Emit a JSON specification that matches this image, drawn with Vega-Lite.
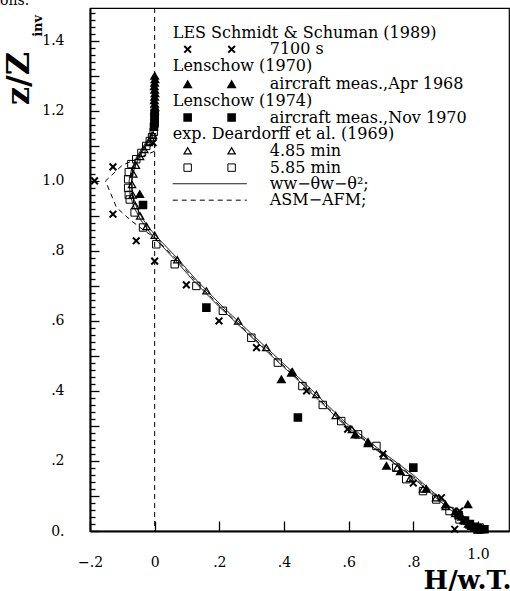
{
  "$schema": "https://vega.github.io/schema/vega-lite/v6.json",
  "width": 419,
  "height": 523,
  "autosize": {"type": "none"},
  "padding": {"left": 90, "top": 8, "right": 1, "bottom": 60},
  "background": "white",
  "title": {"text": "ons.", "anchor": "start", "frame": "group", "dx": -90, "offset": 0, "fontSize": 14, "font": "DejaVu Serif", "fontWeight": "normal", "color": "black"},
  "config": {
    "view": {"stroke": "black", "strokeWidth": 1.2},
    "axis": {"domainColor": "black", "domainWidth": 2, "tickColor": "black", "tickWidth": 1.3, "labelColor": "black", "labelFont": "DejaVu Serif", "labelFontSize": 14, "labelOverlap": false, "grid": false, "titleColor": "black", "titleFont": "DejaVu Serif", "titleFontWeight": "bold"}
  },
  "resolve": {"axis": {"y": "independent"}},
  "datasets": {
    "pts": [
      {"s": "LES", "x": -0.186, "z": 1.0}, {"s": "LES", "x": -0.129, "z": 1.04}, {"s": "LES", "x": -0.129, "z": 0.905}, {"s": "LES", "x": -0.057, "z": 0.829}, {"s": "LES", "x": 0.0, "z": 0.771}, {"s": "LES", "x": 0.098, "z": 0.703}, {"s": "LES", "x": 0.199, "z": 0.6}, {"s": "LES", "x": 0.315, "z": 0.524}, {"s": "LES", "x": -0.005, "z": 1.109}, {"s": "LES", "x": 0.47, "z": 0.4}, {"s": "LES", "x": 0.597, "z": 0.291}, {"s": "LES", "x": 0.706, "z": 0.22}, {"s": "LES", "x": 0.8, "z": 0.137}, {"s": "LES", "x": 0.887, "z": 0.095}, {"s": "LES", "x": 0.943, "z": 0.057}, {"s": "LES", "x": 0.928, "z": 0.005},
      {"s": "Apr68", "x": 0.0, "z": 1.3}, {"s": "Apr68", "x": 0.001, "z": 1.29}, {"s": "Apr68", "x": 0.0, "z": 1.28}, {"s": "Apr68", "x": -0.001, "z": 1.27}, {"s": "Apr68", "x": 0.0, "z": 1.26}, {"s": "Apr68", "x": 0.001, "z": 1.25}, {"s": "Apr68", "x": 0.0, "z": 1.24}, {"s": "Apr68", "x": -0.001, "z": 1.23}, {"s": "Apr68", "x": 0.0, "z": 1.22}, {"s": "Apr68", "x": 0.001, "z": 1.21}, {"s": "Apr68", "x": 0.0, "z": 1.2},
      {"s": "Apr68", "x": -0.046, "z": 0.962}, {"s": "Apr68", "x": 0.392, "z": 0.433}, {"s": "Apr68", "x": 0.423, "z": 0.452}, {"s": "Apr68", "x": 0.717, "z": 0.186}, {"s": "Apr68", "x": 0.969, "z": 0.076}, {"s": "Apr68", "x": 0.62, "z": 0.275}, {"s": "Apr68", "x": 0.66, "z": 0.25}, {"s": "Apr68", "x": 0.76, "z": 0.17}, {"s": "Apr68", "x": 0.84, "z": 0.12}, {"s": "Apr68", "x": 0.9, "z": 0.075}, {"s": "Apr68", "x": 0.93, "z": 0.055}, {"s": "Apr68", "x": 0.95, "z": 0.04}, {"s": "Apr68", "x": 0.96, "z": 0.03}, {"s": "Apr68", "x": 0.97, "z": 0.02}, {"s": "Apr68", "x": 0.98, "z": 0.014}, {"s": "Apr68", "x": 0.99, "z": 0.008}, {"s": "Apr68", "x": 1.0, "z": 0.004},
      {"s": "Nov70", "x": 0.0, "z": 1.195}, {"s": "Nov70", "x": 0.0, "z": 1.185}, {"s": "Nov70", "x": 0.0, "z": 1.175}, {"s": "Nov70", "x": 0.0, "z": 1.165}, {"s": "Nov70", "x": -0.002, "z": 1.155},
      {"s": "Nov70", "x": -0.036, "z": 0.931}, {"s": "Nov70", "x": 0.16, "z": 0.638}, {"s": "Nov70", "x": 0.443, "z": 0.324}, {"s": "Nov70", "x": 0.8, "z": 0.181}, {"s": "Nov70", "x": 0.94, "z": 0.045}, {"s": "Nov70", "x": 0.96, "z": 0.03}, {"s": "Nov70", "x": 0.975, "z": 0.02}, {"s": "Nov70", "x": 0.99, "z": 0.012}, {"s": "Nov70", "x": 1.0, "z": 0.008}, {"s": "Nov70", "x": 1.01, "z": 0.005}, {"s": "Nov70", "x": 1.02, "z": 0.005},
      {"s": "D485", "x": -0.005, "z": 1.13}, {"s": "D485", "x": -0.018, "z": 1.11}, {"s": "D485", "x": -0.032, "z": 1.09}, {"s": "D485", "x": -0.045, "z": 1.07}, {"s": "D485", "x": -0.058, "z": 1.045}, {"s": "D485", "x": -0.066, "z": 1.02}, {"s": "D485", "x": -0.07, "z": 0.99}, {"s": "D485", "x": -0.068, "z": 0.96}, {"s": "D485", "x": -0.06, "z": 0.93}, {"s": "D485", "x": -0.045, "z": 0.9}, {"s": "D485", "x": -0.025, "z": 0.87}, {"s": "D485", "x": 0.0, "z": 0.845}, {"s": "D485", "x": 0.07, "z": 0.775}, {"s": "D485", "x": 0.16, "z": 0.686}, {"s": "D485", "x": 0.258, "z": 0.6}, {"s": "D485", "x": 0.345, "z": 0.524}, {"s": "D485", "x": 0.426, "z": 0.455}, {"s": "D485", "x": 0.5, "z": 0.39}, {"s": "D485", "x": 0.56, "z": 0.33}, {"s": "D485", "x": 0.61, "z": 0.29}, {"s": "D485", "x": 0.66, "z": 0.255}, {"s": "D485", "x": 0.71, "z": 0.215}, {"s": "D485", "x": 0.75, "z": 0.18}, {"s": "D485", "x": 0.79, "z": 0.15}, {"s": "D485", "x": 0.83, "z": 0.12}, {"s": "D485", "x": 0.87, "z": 0.095}, {"s": "D485", "x": 0.9, "z": 0.07}, {"s": "D485", "x": 0.93, "z": 0.05}, {"s": "D485", "x": 0.955, "z": 0.03}, {"s": "D485", "x": 0.975, "z": 0.018}, {"s": "D485", "x": 0.99, "z": 0.008}, {"s": "D485", "x": 1.0, "z": 0.003},
      {"s": "D585", "x": -0.003, "z": 1.14}, {"s": "D585", "x": -0.008, "z": 1.125}, {"s": "D585", "x": -0.015, "z": 1.114}, {"s": "D585", "x": -0.026, "z": 1.1}, {"s": "D585", "x": -0.041, "z": 1.08}, {"s": "D585", "x": -0.057, "z": 1.062}, {"s": "D585", "x": -0.072, "z": 1.048}, {"s": "D585", "x": -0.08, "z": 1.025}, {"s": "D585", "x": -0.082, "z": 1.005}, {"s": "D585", "x": -0.082, "z": 0.98}, {"s": "D585", "x": -0.08, "z": 0.96}, {"s": "D585", "x": -0.077, "z": 0.947}, {"s": "D585", "x": -0.062, "z": 0.91}, {"s": "D585", "x": -0.036, "z": 0.867}, {"s": "D585", "x": 0.005, "z": 0.819}, {"s": "D585", "x": 0.062, "z": 0.762}, {"s": "D585", "x": 0.129, "z": 0.7}, {"s": "D585", "x": 0.211, "z": 0.629}, {"s": "D585", "x": 0.299, "z": 0.552}, {"s": "D585", "x": 0.381, "z": 0.481}, {"s": "D585", "x": 0.457, "z": 0.414}, {"s": "D585", "x": 0.52, "z": 0.36}, {"s": "D585", "x": 0.577, "z": 0.314}, {"s": "D585", "x": 0.629, "z": 0.276}, {"s": "D585", "x": 0.686, "z": 0.243}, {"s": "D585", "x": 0.747, "z": 0.181}, {"s": "D585", "x": 0.778, "z": 0.148}, {"s": "D585", "x": 0.83, "z": 0.114}, {"s": "D585", "x": 0.871, "z": 0.09}, {"s": "D585", "x": 0.912, "z": 0.057}, {"s": "D585", "x": 0.943, "z": 0.033}, {"s": "D585", "x": 0.974, "z": 0.019}, {"s": "D585", "x": 1.005, "z": 0.01}
    ],
    "curves": [
      {"c": "A", "i": 1, "x": 0.0, "z": 1.3}, {"c": "A", "i": 2, "x": 0.0, "z": 1.16}, {"c": "A", "i": 3, "x": -0.008, "z": 1.125}, {"c": "A", "i": 4, "x": -0.028, "z": 1.098}, {"c": "A", "i": 5, "x": -0.048, "z": 1.068}, {"c": "A", "i": 6, "x": -0.063, "z": 1.035}, {"c": "A", "i": 7, "x": -0.071, "z": 1.0}, {"c": "A", "i": 8, "x": -0.068, "z": 0.96}, {"c": "A", "i": 9, "x": -0.056, "z": 0.925}, {"c": "A", "i": 10, "x": -0.036, "z": 0.89}, {"c": "A", "i": 11, "x": -0.014, "z": 0.862}, {"c": "A", "i": 12, "x": 0.005, "z": 0.842}, {"c": "A", "i": 13, "x": 0.07, "z": 0.779}, {"c": "A", "i": 14, "x": 0.13, "z": 0.716}, {"c": "A", "i": 15, "x": 0.21, "z": 0.641}, {"c": "A", "i": 16, "x": 0.3, "z": 0.563}, {"c": "A", "i": 17, "x": 0.38, "z": 0.494}, {"c": "A", "i": 18, "x": 0.46, "z": 0.426}, {"c": "A", "i": 19, "x": 0.59, "z": 0.31}, {"c": "A", "i": 20, "x": 0.7, "z": 0.229}, {"c": "A", "i": 21, "x": 0.8, "z": 0.16}, {"c": "A", "i": 22, "x": 0.9, "z": 0.08}, {"c": "A", "i": 23, "x": 0.995, "z": 0.008},
      {"c": "B", "i": 1, "x": 0.0, "z": 1.3}, {"c": "B", "i": 2, "x": 0.0, "z": 1.16}, {"c": "B", "i": 3, "x": -0.016, "z": 1.125}, {"c": "B", "i": 4, "x": -0.036, "z": 1.098}, {"c": "B", "i": 5, "x": -0.056, "z": 1.068}, {"c": "B", "i": 6, "x": -0.071, "z": 1.035}, {"c": "B", "i": 7, "x": -0.079, "z": 1.0}, {"c": "B", "i": 8, "x": -0.076, "z": 0.96}, {"c": "B", "i": 9, "x": -0.064, "z": 0.925}, {"c": "B", "i": 10, "x": -0.044, "z": 0.89}, {"c": "B", "i": 11, "x": -0.022, "z": 0.862}, {"c": "B", "i": 12, "x": -0.006, "z": 0.842}, {"c": "B", "i": 13, "x": 0.059, "z": 0.779}, {"c": "B", "i": 14, "x": 0.119, "z": 0.716}, {"c": "B", "i": 15, "x": 0.199, "z": 0.641}, {"c": "B", "i": 16, "x": 0.289, "z": 0.563}, {"c": "B", "i": 17, "x": 0.369, "z": 0.494}, {"c": "B", "i": 18, "x": 0.449, "z": 0.426}, {"c": "B", "i": 19, "x": 0.579, "z": 0.31}, {"c": "B", "i": 20, "x": 0.689, "z": 0.229}, {"c": "B", "i": 21, "x": 0.789, "z": 0.16}, {"c": "B", "i": 22, "x": 0.889, "z": 0.08}, {"c": "B", "i": 23, "x": 0.985, "z": 0.008},
      {"c": "ASM", "i": 1, "x": 0.0, "z": 1.085}, {"c": "ASM", "i": 2, "x": -0.05, "z": 1.065}, {"c": "ASM", "i": 3, "x": -0.1, "z": 1.045}, {"c": "ASM", "i": 4, "x": -0.152, "z": 1.0}, {"c": "ASM", "i": 5, "x": -0.118, "z": 0.924}, {"c": "ASM", "i": 6, "x": -0.072, "z": 0.886}, {"c": "ASM", "i": 7, "x": -0.035, "z": 0.86}, {"c": "ASM", "i": 8, "x": 0.0, "z": 0.838}, {"c": "ASM", "i": 9, "x": 0.07, "z": 0.774}, {"c": "ASM", "i": 10, "x": 0.13, "z": 0.71}, {"c": "ASM", "i": 11, "x": 0.21, "z": 0.635}, {"c": "ASM", "i": 12, "x": 0.3, "z": 0.557}, {"c": "ASM", "i": 13, "x": 0.38, "z": 0.488}, {"c": "ASM", "i": 14, "x": 0.46, "z": 0.42}, {"c": "ASM", "i": 15, "x": 0.59, "z": 0.304}, {"c": "ASM", "i": 16, "x": 0.7, "z": 0.224}, {"c": "ASM", "i": 17, "x": 0.8, "z": 0.155}, {"c": "ASM", "i": 18, "x": 0.9, "z": 0.076}, {"c": "ASM", "i": 19, "x": 0.99, "z": 0.006}
    ],
    "legsym": [
      {"s": "LES", "x": 0.102, "z": 1.376}, {"s": "LES", "x": 0.238, "z": 1.376},
      {"s": "Apr68", "x": 0.102, "z": 1.276}, {"s": "Apr68", "x": 0.238, "z": 1.276},
      {"s": "Nov70", "x": 0.102, "z": 1.181}, {"s": "Nov70", "x": 0.238, "z": 1.181},
      {"s": "D485", "x": 0.102, "z": 1.086}, {"s": "D485", "x": 0.238, "z": 1.086},
      {"s": "D585", "x": 0.102, "z": 1.038}, {"s": "D585", "x": 0.238, "z": 1.038}
    ],
    "leglines": [
      {"c": "A", "i": 1, "x": 0.056, "z": 0.992}, {"c": "A", "i": 2, "x": 0.285, "z": 0.992},
      {"c": "ASM", "i": 1, "x": 0.056, "z": 0.945}, {"c": "ASM", "i": 2, "x": 0.285, "z": 0.945}
    ],
    "legtext": [
      {"t": "LES Schmidt & Schuman (1989)", "x": 0.056, "z": 1.424},
      {"t": "7100 s", "x": 0.356, "z": 1.376},
      {"t": "Lenschow (1970)", "x": 0.056, "z": 1.329},
      {"t": "aircraft meas.,Apr 1968", "x": 0.356, "z": 1.276},
      {"t": "Lenschow (1974)", "x": 0.056, "z": 1.229},
      {"t": "aircraft meas.,Nov 1970", "x": 0.356, "z": 1.181},
      {"t": "exp. Deardorff et al. (1969)", "x": 0.056, "z": 1.133},
      {"t": "4.85 min", "x": 0.356, "z": 1.086},
      {"t": "5.85 min", "x": 0.356, "z": 1.038},
      {"t": "ww−θw−θ²;", "x": 0.356, "z": 0.992},
      {"t": "ASM−AFM;", "x": 0.356, "z": 0.945}
    ],
    "sub": [{"t": "inv", "x": -0.36, "z": 1.443}],
    "zero": [{"x": 0}]
  },
  "layer": [
    {
      "data": {"name": "zero"},
      "mark": {"type": "rule", "color": "black", "strokeWidth": 1, "strokeDash": [5, 4]},
      "encoding": {"x": {"field": "x", "type": "quantitative", "scale": {"domain": [-0.2, 1.096], "nice": false, "zero": false}}}
    },
    {
      "data": {"name": "curves"},
      "mark": {"type": "line", "color": "black", "strokeWidth": 1},
      "encoding": {
        "x": {"field": "x", "type": "quantitative", "scale": {"domain": [-0.2, 1.096], "nice": false, "zero": false},
          "axis": {"values": [-0.2, -0.15, -0.1, -0.05, 0, 0.05, 0.1, 0.15, 0.2, 0.25, 0.3, 0.35, 0.4, 0.45, 0.5, 0.55, 0.6, 0.65, 0.7, 0.75, 0.8, 0.85, 0.9, 0.95, 1, 1.05],
            "labelExpr": "round(datum.value*100)%20==0 ? (datum.value==0 ? '0' : replace(format(datum.value,'.1f'),'0.','.')) : ''",
            "tickSize": {"condition": {"test": "round(datum.value*100)%10==0", "value": -10}, "value": -6},
            "labelPadding": {"condition": {"test": "datum.value==1", "value": 26}, "value": 34},
            "labelFlush": false, "labelOverlap": false,
            "title": "H/w.T.", "titleFontSize": 26, "titleAnchor": "end", "titleAlign": "right", "titleBaseline": "alphabetic", "titleX": 421, "titleY": 57}},
        "y": {"field": "z", "type": "quantitative", "scale": {"domain": [0, 1.494], "nice": false},
          "axis": {"orient": "left", "values": [0, 0.1, 0.2, 0.3, 0.4, 0.5, 0.6, 0.7, 0.8, 0.9, 1, 1.1, 1.2, 1.3, 1.4],
            "labelExpr": "round(datum.value*100)%20==0 ? (datum.value==0 ? '0.' : (datum.value>=1 ? format(datum.value,'.1f') : replace(format(datum.value,'.1f'),'0.','.'))) : ''",
            "tickSize": -9,
            "labelPadding": 35, "labelFlush": false, "labelOverlap": false,
            "title": "z/Z", "titleFontSize": 32, "titleAngle": 270, "titleAlign": "center", "titleBaseline": "middle", "titleX": -72, "titleY": 70}},
        "detail": {"field": "c"},
        "order": {"field": "i", "type": "quantitative"},
        "strokeDash": {"field": "c", "type": "nominal", "scale": {"domain": ["A", "B", "ASM"], "range": [[1, 0], [1, 0], [5, 4]]}, "legend": null}
      }
    },
    {
      "data": {"name": "leglines"},
      "mark": {"type": "line", "color": "black", "strokeWidth": 1},
      "encoding": {
        "x": {"field": "x", "type": "quantitative"},
        "y": {"field": "z", "type": "quantitative",
          "axis": {"orient": "left", "values": [0.02, 0.04, 0.06, 0.08, 0.12, 0.14, 0.16, 0.18, 0.22, 0.24, 0.26, 0.28, 0.32, 0.34, 0.36, 0.38, 0.42, 0.44, 0.46, 0.48, 0.52, 0.54, 0.56, 0.58, 0.62, 0.64, 0.66, 0.68, 0.72, 0.74, 0.76, 0.78, 0.82, 0.84, 0.86, 0.88, 0.92, 0.94, 0.96, 0.98, 1.02, 1.04, 1.06, 1.08, 1.12, 1.14, 1.16, 1.18, 1.22, 1.24, 1.26, 1.28, 1.32, 1.34, 1.36, 1.38, 1.42, 1.44, 1.46, 1.48],
            "labels": false, "domain": false, "tickSize": -5, "title": null}},
        "detail": {"field": "c"},
        "order": {"field": "i", "type": "quantitative"},
        "strokeDash": {"field": "c", "type": "nominal", "legend": null}
      }
    },
    {
      "data": {"name": "pts"},
      "mark": {"type": "point", "filled": true, "stroke": "black", "opacity": 1},
      "encoding": {
        "x": {"field": "x", "type": "quantitative"},
        "y": {"field": "z", "type": "quantitative", "axis": null},
        "shape": {"field": "s", "type": "nominal", "scale": {"domain": ["LES", "Apr68", "Nov70", "D485", "D585"], "range": ["M-1,-1L1,1M-1,1L1,-1", "triangle-up", "square", "triangle-up", "square"]}, "legend": null},
        "fill": {"field": "s", "type": "nominal", "scale": {"domain": ["LES", "Apr68", "Nov70", "D485", "D585"], "range": ["transparent", "black", "black", "transparent", "transparent"]}, "legend": null},
        "size": {"field": "s", "type": "nominal", "scale": {"domain": ["LES", "Apr68", "Nov70", "D485", "D585"], "range": [45, 55, 55, 55, 55]}, "legend": null},
        "strokeWidth": {"field": "s", "type": "nominal", "scale": {"domain": ["LES", "Apr68", "Nov70", "D485", "D585"], "range": [2, 1, 1, 1.1, 1.1]}, "legend": null}
      }
    },
    {
      "data": {"name": "legsym"},
      "mark": {"type": "point", "filled": true, "stroke": "black", "opacity": 1},
      "encoding": {
        "x": {"field": "x", "type": "quantitative"},
        "y": {"field": "z", "type": "quantitative", "axis": null},
        "shape": {"field": "s", "type": "nominal", "legend": null},
        "fill": {"field": "s", "type": "nominal", "legend": null},
        "size": {"field": "s", "type": "nominal", "legend": null},
        "strokeWidth": {"field": "s", "type": "nominal", "legend": null}
      }
    },
    {
      "data": {"name": "legtext"},
      "mark": {"type": "text", "align": "left", "baseline": "middle", "font": "DejaVu Serif", "fontSize": 16, "color": "black"},
      "encoding": {
        "x": {"field": "x", "type": "quantitative"},
        "y": {"field": "z", "type": "quantitative", "axis": null},
        "text": {"field": "t"}
      }
    },
    {
      "data": {"name": "sub"},
      "mark": {"type": "text", "align": "center", "baseline": "middle", "font": "DejaVu Serif", "fontWeight": "bold", "fontSize": 13, "angle": 270, "color": "black"},
      "encoding": {
        "x": {"field": "x", "type": "quantitative"},
        "y": {"field": "z", "type": "quantitative", "axis": null},
        "text": {"field": "t"}
      }
    }
  ]
}
